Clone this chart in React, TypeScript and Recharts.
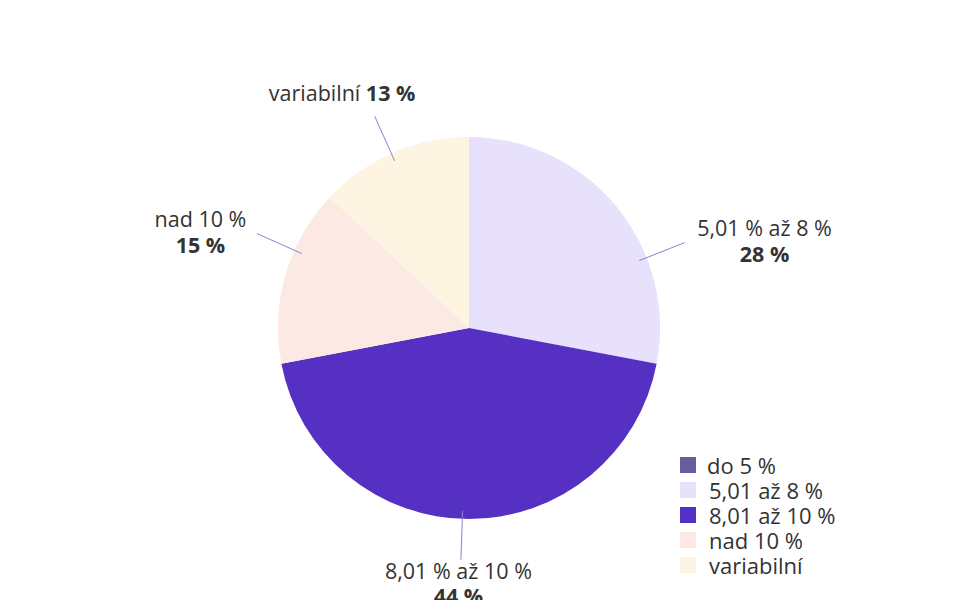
import { PieChart, Pie, Cell, Legend } from 'recharts'

const CATEGORIES = ['do 5 %', '5,01 % až 8 %', '8,01 % až 10 %', 'nad 10 %', 'variabilní']
const LEGEND_LABELS = ['do 5 %', '5,01 až 8 %', '8,01 až 10 %', 'nad 10 %', 'variabilní']
const SHARES = [0, 28, 44, 15, 13]
const COLORS = ['#6a5c9a', '#e7e1fb', '#5530c2', '#fde9e4', '#fef4e2']

// small angle nudges (deg) so the connectors sit where the original placed them
const LABEL_NUDGE = [0, -18, -2, -7.8, 0.6]

const FONT = '"Open Sans", sans-serif'
const TEXT_COLOR = '#333333'
const LINE_COLOR = '#8b80d8'
const RADIAN = Math.PI / 180

const data = CATEGORIES.map((name, i) => ({
  name,
  value: SHARES[i],
  color: COLORS[i],
  nudge: LABEL_NUDGE[i],
}))
  .filter((d) => d.value > 0)

interface LabelProps {
  cx: number
  cy: number
  midAngle: number
  outerRadius: number
  index: number
}

function SliceLabel({ cx, cy, midAngle, outerRadius, index }: LabelProps) {
  const d = data[index]
  const angle = (midAngle + d.nudge) * RADIAN
  const cos = Math.cos(angle)
  const sin = Math.sin(angle)
  const x1 = cx + (outerRadius - 8) * cos
  const y1 = cy - (outerRadius - 8) * sin
  const x2 = cx + (outerRadius + 41) * cos
  const y2 = cy - (outerRadius + 41) * sin
  const pct = `${d.value} %`
  const textStyle = { fontFamily: FONT, fontSize: 21.5, fill: TEXT_COLOR }

  let text
  if (Math.abs(cos) > 0.6) {
    const w = d.name.length * 10.9
    const tx = cos > 0 ? x2 + 9 + w / 2 : x2 - 13 - w / 2
    text = (
      <text x={tx} y={y2} textAnchor="middle" style={textStyle}>
        <tspan x={tx} dy={-7}>{d.name}</tspan>
        <tspan x={tx} dy={26} fontWeight={700}>{pct}</tspan>
      </text>
    )
  } else if (sin > 0) {
    const tx = x2 + cos * 80
    text = (
      <text x={tx} y={y2 - 15} textAnchor="middle" style={textStyle}>
        {d.name} <tspan fontWeight={700}>{pct}</tspan>
      </text>
    )
  } else {
    const tx = x2 + cos * 70
    text = (
      <text x={tx} y={y2 + 19} textAnchor="middle" style={textStyle}>
        <tspan x={tx}>{d.name}</tspan>
        <tspan x={tx} dy={25} fontWeight={700}>{pct}</tspan>
      </text>
    )
  }

  return (
    <g>
      <line x1={x1} y1={y1} x2={x2} y2={y2} stroke={LINE_COLOR} strokeWidth={1} />
      {text}
    </g>
  )
}

function PieLegend() {
  return (
    <div style={{ fontFamily: FONT, fontSize: 22, color: TEXT_COLOR }}>
      {LEGEND_LABELS.map((label, i) => (
        <div key={label} style={{ display: 'flex', alignItems: 'center', height: 25 }}>
          <span
            style={{
              display: 'inline-block',
              width: 16,
              height: 16,
              backgroundColor: COLORS[i],
              marginRight: i === 0 ? 11 : 13,
              flexShrink: 0,
            }}
          />
          <span style={{ display: 'block', whiteSpace: 'nowrap', lineHeight: '24px', height: 24 }}>{label}</span>
        </div>
      ))}
    </div>
  )
}

export default function App() {
  return (
    <div style={{ position: 'absolute', left: 0, top: 0, width: 960, height: 600, background: '#fff' }}>
      <PieChart width={960} height={600} margin={{ top: 0, right: 0, bottom: 0, left: 0 }}>
        <Pie
          data={data}
          dataKey="value"
          nameKey="name"
          cx={469}
          cy={328}
          outerRadius={191}
          startAngle={90}
          endAngle={-270}
          stroke="none"
          label={SliceLabel}
          labelLine={false}
          isAnimationActive={false}
        >
          {data.map((d) => (
            <Cell key={d.name} fill={d.color} />
          ))}
        </Pie>
        <Legend
          content={<PieLegend />}
          wrapperStyle={{ position: 'absolute', left: 680, top: 452, width: 220 }}
        />
      </PieChart>
    </div>
  )
}
